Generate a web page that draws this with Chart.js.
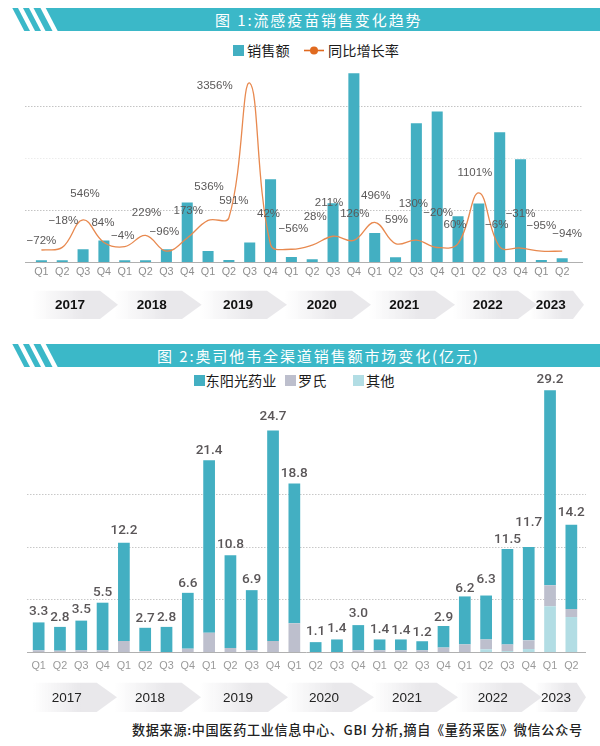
<!DOCTYPE html>
<html><head><meta charset="utf-8">
<script src="https://cdn.jsdelivr.net/npm/chart.js@4/dist/chart.umd.js"></script>
<style>
html,body{margin:0;padding:0;background:#fff;width:600px;height:746px;overflow:hidden}
#page{position:relative;width:600px;height:746px;font-family:"Noto Sans CJK SC",sans-serif}
canvas{position:absolute;left:0}
.abs{position:absolute;white-space:nowrap}
.title{color:#fff;font-size:15px;letter-spacing:1.9px;line-height:23px;height:23px}
.lg{color:#1c1c1c;font-size:14.2px;line-height:20px}
.sq{position:absolute;width:11px;height:11px}
</style></head><body>
<div id="page">
<svg class="abs" style="left:0;top:0" width="600" height="370">
  <g fill="#3BB8C8">
    <polygon points="12.3,8 18,8 30,31 24.3,31"/><polygon points="23,8 29,8 41,31 35,31"/><polygon points="33.5,8 40.5,8 52.5,31 45.5,31"/><polygon points="45.7,8 600,8 600,31 57.7,31"/>
    <polygon points="12.3,344 18,344 30,367 24.3,367"/><polygon points="23,344 29,344 41,367 35,367"/><polygon points="33.5,344 40.5,344 52.5,367 45.5,367"/><polygon points="45.7,344 600,344 600,367 57.7,367"/>
  </g>
  <line x1="304" y1="50.5" x2="324" y2="50.5" stroke="#E06A1F" stroke-width="1.6"/>
  <circle cx="314" cy="50.5" r="4" fill="#E06A1F"/>
</svg>
<div class="abs title" style="left:215px;top:8px">图 1:流感疫苗销售变化趋势</div>
<div class="abs title" style="left:157px;top:344px">图 2:奥司他韦全渠道销售额市场变化(亿元)</div>
<div class="sq" style="left:233px;top:45px;background:#43AFC2"></div>
<div class="abs lg" style="left:247px;top:40px">销售额</div>
<div class="abs lg" style="left:328px;top:40px">同比增长率</div>
<div class="sq" style="left:193.5px;top:374.5px;background:#43AFC2"></div>
<div class="abs lg" style="left:205.5px;top:370px">东阳光药业</div>
<div class="sq" style="left:284.5px;top:374.5px;background:#BDBFCD"></div>
<div class="abs lg" style="left:298px;top:370px">罗氏</div>
<div class="sq" style="left:352.5px;top:374.5px;background:#B2DDE4"></div>
<div class="abs lg" style="left:366px;top:370px">其他</div>
<canvas id="c1" style="top:40px" width="600" height="290"></canvas>
<canvas id="c2" style="top:370px" width="600" height="346"></canvas>
<div class="abs" style="left:132px;top:720px;font-size:13.1px;line-height:20px;color:#222;font-weight:500;letter-spacing:.7px">数据来源:中国医药工业信息中心、GBI 分析,摘自《量药采医》微信公众号</div>
</div>
<script>
const quarters = ["Q1","Q2","Q3","Q4","Q1","Q2","Q3","Q4","Q1","Q2","Q3","Q4","Q1","Q2","Q3","Q4","Q1","Q2","Q3","Q4","Q1","Q2","Q3","Q4","Q1","Q2"];
const years = ["2017","2018","2019","2020","2021","2022","2023"];
const vaccineSales = [0.16,0.16,1.22,2.06,0.16,0.16,1.22,5.71,1.06,0.19,1.87,7.95,0.48,0.26,5.64,18.14,2.79,0.45,13.34,14.46,4.39,5.62,12.47,9.88,0.19,0.36];
const yoyGrowth = [-72,-18,546,84,-4,229,-96,173,536,591,3356,42,-56,28,211,126,496,59,130,-20,60,1101,-6,-31,-95,-94];
const oseltamivirTotal = [3.3,2.8,3.5,5.5,12.2,2.7,2.8,6.6,21.4,10.8,6.9,24.7,18.8,1.1,1.4,3.0,1.4,1.4,1.2,2.9,6.2,6.3,11.5,11.7,29.2,14.2];
const roche = [0.2,0.15,0.2,0.2,1.23,0.1,0,0.37,2.15,0.45,0.2,1.23,3.2,0,0,0.2,0.2,0.2,0.2,0.5,0.85,1.1,0.75,0.97,2.34,0.9];
const others = [0,0,0,0,0,0,0,0,0,0,0,0,0,0,0,0,0,0,0,0,0,0.3,0.1,0.33,5.1,3.9];
const hec = oseltamivirTotal.map((t,i)=>+(t-roche[i]-others[i]).toFixed(2));

/* label placement (px, relative to the mark) */
const growthLabelNudge = [[0,-9],[1,-27],[2,-26],[-1,-20],[-2,-11],[1,-23],[-2,-19],[1,-27],[1,-34],[5,-17],[-35,3],[-2,-31],[2,-20],[3,-28],[-4,-33],[1,-27],[1,-27],[1,-24],[-3,-36],[1,-35],[-3,-19],[-4,-20],[-3,-22],[0,-34],[0,-25],[5,-17]];
const totalLabelNudge = [-11,-9,-11,-10,-12,-9,-9,-9,-10,-11,-11,-14,-10,-10.5,-11,-12,-10,-9,-9,-8,-8,-16,-9.5,-25,-11,-12.5];
/* year chevrons: [left, shoulder, tip, labelCentre] */
const band1 = [[33,100,118,70],[115,182,201.7,151.7],[200,267,287,238],[285,352,371,321.7],[369,435,455,404.3],[453,518,537,487.7],[530,573,584,550.7]];
const band2 = [[33,96.7,117,66.7],[115,181.7,201,150],[199,268,288,238],[286,351.7,374,324],[372,436.7,458,407],[456,521.7,541.7,492.7],[535,576.7,586,556]];

function chrome(id){return {id,
  beforeDatasetsDraw(chart,a,o){
    const c=chart.ctx, s=chart.scales.y, area=chart.chartArea;
    c.save();
    o.grid.forEach((g,i)=>{
      c.beginPath();c.setLineDash([1.5,1.5]);c.lineWidth=1;c.strokeStyle=o.gridColors[i];
      const y=Math.round(s.getPixelForValue(g))+.5;
      c.moveTo(o.x0,y);c.lineTo(o.x1,y);c.stroke();
    });
    c.setLineDash([]);c.strokeStyle='#b0b0b0';c.beginPath();
    c.moveTo(o.x0,Math.round(area.bottom)+.5);c.lineTo(o.x1,Math.round(area.bottom)+.5);c.stroke();
    const top=o.bandTop-chart.canvas.offsetTop, h=o.bandH;
    o.bands.forEach((b,i)=>{
      const g=c.createLinearGradient(b[0],0,b[0]+(b[1]-b[0])*.75,0);
      g.addColorStop(0,'rgba(233,232,235,0)');g.addColorStop(1,'#e9e8eb');
      c.fillStyle=g;c.beginPath();c.moveTo(b[0],top);c.lineTo(b[1],top);c.lineTo(b[2],top+h/2);c.lineTo(b[1],top+h);c.lineTo(b[0],top+h);c.closePath();c.fill();
    });
    c.fillStyle=o.bandColor;c.font=o.bandFont;c.textAlign='center';c.textBaseline='middle';
    o.bands.forEach((b,i)=>c.fillText(years[i],b[3],top+h/2+.5));
    c.restore();
  }};}

const valueLabels={id:'valueLabels',
  afterDatasetsDraw(chart,a,o){
    const c=chart.ctx;c.save();c.textAlign='center';c.textBaseline='middle';c.font=o.font;c.fillStyle=o.color;
    const meta=chart.getDatasetMeta(o.dataset);
    meta.data.forEach((el,i)=>{
      const n=o.nudge[i], dx=Array.isArray(n)?n[0]:0, dy=Array.isArray(n)?n[1]:n;
      c.fillText(o.text[i],el.x+dx,el.y+dy);
    });
    c.restore();
  }};

Chart.defaults.animation=false;Chart.defaults.responsive=false;
Chart.defaults.font.family='"Liberation Sans",Arial,sans-serif';

function xAxis(h,pad,col){return {type:'category',grid:{display:false},border:{display:false},
  ticks:{autoSkip:false,maxRotation:0,minRotation:0,padding:pad,color:col,font:{size:10.8}},
  afterFit(s){s.height=h;}};}

new Chart(document.getElementById('c1'),{
  data:{labels:quarters,datasets:[
    {type:'line',label:'同比增长率',data:yoyGrowth,yAxisID:'y2',order:0,borderColor:'#E8894F',borderWidth:1.3,pointRadius:0,tension:0.4,clip:false},
    {type:'bar',label:'销售额',data:vaccineSales,yAxisID:'y',order:1,backgroundColor:'#43AFC2',categoryPercentage:1,barPercentage:.53}
  ]},
  options:{layout:{padding:{left:31,right:27.4,top:14,bottom:0}},
    scales:{x:xAxis(68,-4,'#8f8f8f'),
      y:{display:false,min:0,max:20},
      y2:{display:false,min:-318,max:3953}},
    plugins:{legend:{display:false},tooltip:{enabled:false},
      chrome1:{grid:[5,10,15],gridColors:['#c4c4c4','#ececec','#c4c4c4'],x0:25,x1:583,bands:band1,bandTop:290.7,bandH:28.3,bandColor:'#111',bandFont:'bold 13.5px "Liberation Sans"'},
      valueLabels:{dataset:0,text:yoyGrowth.map(v=>(v<0?'−'+(-v):v)+'%'),nudge:growthLabelNudge,font:'11.5px "Liberation Sans"',color:'#5a5858'}}
  },plugins:[chrome('chrome1'),valueLabels]});

new Chart(document.getElementById('c2'),{
  type:'bar',
  data:{labels:quarters,datasets:[
    {label:'其他',data:others,backgroundColor:'#B2DDE4',stack:'s'},
    {label:'罗氏',data:roche,backgroundColor:'#BDBFCD',stack:'s'},
    {label:'东阳光药业',data:hec,backgroundColor:'#43AFC2',stack:'s'}
  ].map(d=>Object.assign(d,{categoryPercentage:1,barPercentage:.55}))},
  options:{layout:{padding:{left:28,right:18,top:5,bottom:0}},
    scales:{x:Object.assign(xAxis(64,0,'#9a9a9a'),{stacked:true}),
      y:{display:false,stacked:true,min:0,max:30.9}},
    plugins:{legend:{display:false},tooltip:{enabled:false},
      chrome2:{grid:[5.88,11.76,17.64],gridColors:['#c8c8c8','#c8c8c8','#c8c8c8'],x0:27,x1:586,bands:band2,bandTop:682.7,bandH:29.3,bandColor:'#222',bandFont:'13.5px "Liberation Sans"'},
      valueLabels:{dataset:2,text:oseltamivirTotal.map(v=>v.toFixed(1)),nudge:totalLabelNudge,font:'500 13.6px Roboto',color:'#5a5658'}}
  },plugins:[chrome('chrome2'),valueLabels]});
</script>
</body></html>
